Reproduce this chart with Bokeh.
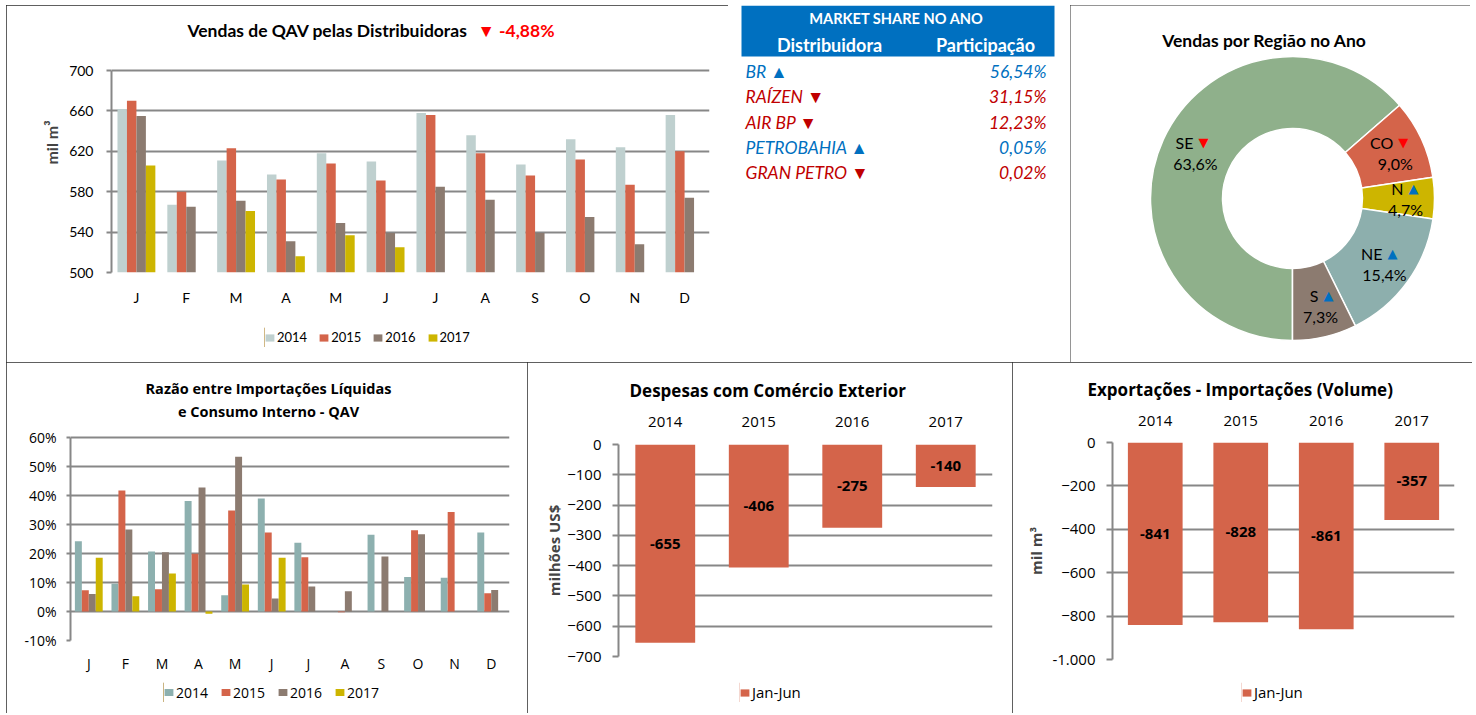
import numpy as np
from bokeh.plotting import figure
from bokeh.models import (Range1d, FactorRange, FixedTicker, Legend, LegendItem,
                          ColumnDataSource, PrintfTickFormatter)
from bokeh.core.properties import value
from bokeh.transform import dodge
from bokeh.embed import file_html
from bokeh.resources import INLINE

NaN = float("nan")

# ---------------- data ----------------
months = ["J", "F", "M", "A", "M", "J", "J", "A", "S", "O", "N", "D"]
years = ["2014", "2015", "2016", "2017"]

sales_2014 = [662, 567, 611, 597, 618, 610, 658, 636, 607, 632, 624, 656]
sales_2015 = [670, 580, 623, 592, 608, 591, 656, 618, 596, 612, 587, 620]
sales_2016 = [655, 565, 571, 531, 549, 539, 585, 572, 539, 555, 528, 574]
sales_2017 = [606, NaN, 561, 516, 537, 525, NaN, NaN, NaN, NaN, NaN, NaN]
sales_change = -4.88

ratio_2014 = [24.2, 9.6, 20.7, 38.1, 5.6, 39.0, 23.7, 0.0, 26.5, 11.9, 11.6, 27.2]
ratio_2015 = [7.3, 41.7, 7.7, 19.9, 34.8, 27.2, 18.7, -0.3, 0.0, 28.0, 34.3, 6.3]
ratio_2016 = [6.0, 28.3, 20.4, 42.8, 53.4, 4.5, 8.6, 7.0, 19.0, 26.6, 0.0, 7.4]
ratio_2017 = [18.5, 5.3, 13.1, -0.8, 9.3, 18.5, NaN, NaN, NaN, NaN, NaN, NaN]

trade_years = ["2014", "2015", "2016", "2017"]
expense_values = [-655, -406, -275, -140]
balance_values = [-841, -828, -861, -357]
period_label = "Jan-Jun"

distributors = ["BR", "RAÍZEN", "AIR BP", "PETROBAHIA", "GRAN PETRO"]
dist_share = [56.54, 31.15, 12.23, 0.05, 0.02]
dist_trend = ["up", "down", "down", "up", "down"]

regions = ["SE", "CO", "N", "NE", "S"]
region_share = [63.6, 9.0, 4.7, 15.4, 7.3]
region_trend = ["down", "down", "up", "up", "up"]

# ---------------- style ----------------
TOP_FONT = "Lato"
BOT_FONT = "Open Sans"
GRID = "#878787"
UP = "#0070C0"
DOWN = "#C00000"
C2015, C2016, C2017 = "#D4644A", "#8C7B70", "#CDB500"
roots = []


def fmt_pt(v, d):
    return f"{v:.{d}f}".replace(".", ",")


def place(ox, oy, border=True):
    st = {"position": "absolute", "left": f"{ox}px", "top": f"{oy}px"}
    if border:
        st.update({"outline": "1px solid #2b2b2b", "outline-offset": "-1px"})
    return st


def panel(width, height, origin, frame, **kw):
    ox, oy = origin
    L, R, T, B = frame
    p = figure(width=width, height=height, toolbar_location=None, output_backend="svg",
               min_border_left=L - ox, min_border_right=ox + width - R,
               min_border_top=T - oy, min_border_bottom=oy + height - B,
               background_fill_color="white", border_fill_color="white",
               styles=place(ox, oy), **kw)
    p.outline_line_color = None
    return p


def style_y(p, font, size, tick_out, standoff):
    p.yaxis.axis_line_color = GRID
    p.yaxis.axis_line_width = 2
    p.yaxis.major_tick_line_color = GRID if tick_out else None
    p.yaxis.major_tick_line_width = 2
    p.yaxis.major_tick_out = tick_out
    p.yaxis.major_tick_in = 0
    p.yaxis.minor_tick_line_color = None
    p.yaxis.minor_tick_out = 0
    p.yaxis.major_label_standoff = standoff
    p.yaxis.major_label_text_font = font
    p.yaxis.major_label_text_font_size = size
    p.yaxis.major_label_text_color = "black"
    p.ygrid.grid_line_color = GRID
    p.ygrid.grid_line_width = 2
    p.xgrid.visible = False


def style_x(p, font, size, standoff):
    p.xaxis.axis_line_color = None
    p.xaxis.major_tick_line_color = None
    p.xaxis.minor_tick_line_color = None
    p.xaxis.major_tick_out = 0
    p.xaxis.minor_tick_out = 0
    p.xaxis.major_label_standoff = standoff
    p.xaxis.major_label_text_font = font
    p.xaxis.major_label_text_font_size = size
    p.xaxis.major_label_text_color = "black"


def legend_box(labels, colors, left, cy, width, font, size, spacing):
    """A transparent strip holding a horizontal legend, laid over the chart panel."""
    lf = figure(width=width, height=20, x_range=Range1d(0, 1), y_range=Range1d(0, 1),
                min_border=0, toolbar_location=None, output_backend="svg",
                x_axis_type=None, y_axis_type=None, border_fill_color=None,
                background_fill_color=None, styles=place(left, cy - 10, border=False))
    lf.outline_line_color = None
    lf.grid.visible = False
    items = []
    for lab, col in zip(labels, colors):
        # swatch renderer kept outside the strip's visible range
        r = lf.vbar(x=[-5], top=[1], width=0.1, fill_color=col, line_color=None)
        items.append(LegendItem(label=lab, renderers=[r]))
    lg = Legend(items=items, orientation="horizontal", location="center_left",
                glyph_width=11, glyph_height=9, label_height=9,
                label_text_font=font, label_text_font_size=size,
                label_text_line_height=0.7,
                label_text_color="black", label_standoff=2,
                spacing=spacing, padding=0, margin=0,
                border_line_color=None, background_fill_alpha=0)
    lf.add_layout(lg)
    return lf


class Mapper:
    """page pixel -> data coordinates for a frame whose value band [v_lo, v_hi] spans px_lo..px_hi."""
    def __init__(self, frame, x0, x1, v_lo, v_hi, px_lo, px_hi):
        self.L, self.R, self.T, self.B = frame
        self.x0, self.x1 = x0, x1
        self.scale = (v_hi - v_lo) / (px_lo - px_hi)
        self.v_lo, self.px_lo = v_lo, px_lo

    def x(self, px):
        return self.x0 + (px - self.L) * (self.x1 - self.x0) / (self.R - self.L)

    def y(self, py):
        return self.v_lo + (self.px_lo - py) * self.scale


# ---------------- chart 1: monthly sales ----------------
o1, f1 = (6, 5), (111, 709, 12, 272)          # frame top extended to hold the title
m1 = Mapper(f1, 0.5, 12.5, 500, 700, 272, 70)
p1 = panel(722, 357, o1, f1, x_range=Range1d(0.5, 12.5), y_range=Range1d(500, m1.y(f1[2])))
src1 = ColumnDataSource(dict(x=list(range(1, 13)), y2014=sales_2014, y2015=sales_2015,
                             y2016=sales_2016, y2017=sales_2017))
offsets = [-0.285, -0.095, 0.095, 0.285]
cols1 = ["#BFD0CF", C2015, C2016, C2017]
for k, yr in enumerate(years):
    p1.vbar(x=dodge("x", offsets[k]), top="y" + yr, bottom=500, width=0.19,
            source=src1, fill_color=cols1[k], line_color=None)
p1.xaxis.ticker = FixedTicker(ticks=list(range(1, 13)))
p1.xaxis.major_label_overrides = {i + 1: m for i, m in enumerate(months)}
p1.yaxis.ticker = FixedTicker(ticks=list(range(500, 701, 40)))
p1.yaxis.bounds = (500, 700)
style_y(p1, TOP_FONT, "14px", 5, 13)
style_x(p1, TOP_FONT, "14px", 16)
p1.yaxis.axis_label = "mil m³"
p1.yaxis.axis_label_text_font = TOP_FONT
p1.yaxis.axis_label_text_font_size = "16px"
p1.yaxis.axis_label_text_font_style = "bold"
p1.yaxis.axis_label_standoff = 5
p1.text(x=[m1.x(467)], y=[m1.y(30)], text=["Vendas de QAV pelas Distribuidoras"],
        text_align="right", text_baseline="middle", text_font=value(TOP_FONT),
        text_font_style="bold", text_font_size="17.5px", text_color="black")
p1.text(x=[m1.x(477)], y=[m1.y(30)], text=["▼ " + fmt_pt(sales_change, 2) + "%"],
        text_align="left", text_baseline="middle", text_font=value(TOP_FONT),
        text_font_style="bold", text_font_size="17.5px", text_color="#FF0000")
roots.append(p1)

# ---------------- table: market share ----------------
pt = figure(width=342, height=357, x_range=Range1d(728, 1070), y_range=Range1d(-362, -5),
            min_border=0, toolbar_location=None, output_backend="svg",
            x_axis_type=None, y_axis_type=None, border_fill_color="white",
            styles=place(728, 5, border=False))
pt.outline_line_color = None
pt.grid.visible = False
pt.quad(left=741, right=1054, top=-5, bottom=-56, fill_color="#0070C0", line_color=None)
pt.text(x=[896], y=[-18], text=["MARKET SHARE NO ANO"], text_align="center",
        text_baseline="middle", text_font=value(TOP_FONT), text_font_style="bold",
        text_font_size="14.6px", text_color="white")
pt.text(x=[829, 985], y=[-44, -44], text=["Distribuidora", "Participação"], text_align="center",
        text_baseline="middle", text_font=value(TOP_FONT), text_font_style="bold",
        text_font_size="18px", text_color="white")
row_y = [-(71 + 25.3 * i) for i in range(len(distributors))]
tcol = [UP if t == "up" else DOWN for t in dist_trend]
names = [n + " " + ("▲" if t == "up" else "▼") for n, t in zip(distributors, dist_trend)]
shares = [fmt_pt(s, 2) + "%" for s in dist_share]
pt.text(x=745, y=row_y, text=names, text_color=tcol, text_align="left", text_baseline="middle",
        text_font=value(TOP_FONT), text_font_style="italic", text_font_size="17.5px")
pt.text(x=1046, y=row_y, text=shares, text_color=tcol, text_align="right", text_baseline="middle",
        text_font=value(TOP_FONT), text_font_style="italic", text_font_size="17.5px")
roots.append(pt)

# ---------------- donut: sales by region ----------------
pp = figure(width=400, height=357, x_range=Range1d(1070, 1470), y_range=Range1d(-362, -5),
            min_border=0, toolbar_location=None, output_backend="svg",
            x_axis_type=None, y_axis_type=None, border_fill_color="white",
            styles=place(1070, 5))
pp.outline_line_color = None
pp.grid.visible = False
cx, cy, r_in, r_out = 1292, -198, 70, 142
frac = np.array(region_share) / np.sum(region_share)
cum = np.concatenate([[0.0], np.cumsum(frac)])
first = np.pi                      # first slice starts at 6 o'clock, clockwise
start = np.pi / 2 - (first + 2 * np.pi * cum[:-1])
end = np.pi / 2 - (first + 2 * np.pi * cum[1:])
pcols = ["#8FB08B", "#D4644A", "#CDB500", "#8DAFAD", "#8C7B70"]
pp.annular_wedge(x=cx, y=cy, inner_radius=r_in, outer_radius=r_out, start_angle=start,
                 end_angle=end, direction="clock", fill_color=pcols, line_color="white",
                 line_width=1.5)
mid = (start + end) / 2
r_lab = 110
lx = cx + r_lab * np.cos(mid)
ly = cy + r_lab * np.sin(mid)
pp.text(x=lx + 1, y=ly + 10, text=regions, text_align="right", text_baseline="middle",
        text_font=value(TOP_FONT), text_font_size="16px", text_color="black")
pp.text(x=lx + 6, y=ly + 10, text=["▲" if t == "up" else "▼" for t in region_trend],
        text_align="left", text_baseline="middle", text_font=value("DejaVu Sans"),
        text_font_size="13px",
        text_color=["#0070C0" if t == "up" else "#FF0000" for t in region_trend])
pp.text(x=lx + 3, y=ly - 11, text=[fmt_pt(v, 1) + "%" for v in region_share],
        text_align="center", text_baseline="middle", text_font=value(TOP_FONT),
        text_font_size="16px", text_color="black")
pp.text(x=[1264], y=[-40], text=["Vendas por Região no Ano"], text_align="center",
        text_baseline="middle", text_font=value(TOP_FONT), text_font_style="bold",
        text_font_size="17.5px", text_color="black")
roots.append(pp)

# ---------------- chart 2: import ratio ----------------
o2, f2 = (6, 362), (70, 509, 370, 640)        # frame top extended to hold the title
m2 = Mapper(f2, 0.5, 12.5, -10, 60, 640, 437)
p2 = panel(521, 351, o2, f2, x_range=Range1d(0.5, 12.5), y_range=Range1d(-10, m2.y(f2[2])))
src2 = ColumnDataSource(dict(x=list(range(1, 13)), y2014=ratio_2014, y2015=ratio_2015,
                             y2016=ratio_2016, y2017=ratio_2017))
cols2 = ["#8DB0AF", C2015, C2016, C2017]
for k, yr in enumerate(years):
    p2.vbar(x=dodge("x", offsets[k]), top="y" + yr, bottom=0, width=0.19,
            source=src2, fill_color=cols2[k], line_color=None)
p2.xaxis.ticker = FixedTicker(ticks=list(range(1, 13)))
p2.xaxis.major_label_overrides = {i + 1: m for i, m in enumerate(months)}
p2.yaxis.ticker = FixedTicker(ticks=list(range(-10, 61, 10)))
p2.yaxis.bounds = (-10, 60)
p2.yaxis.formatter = PrintfTickFormatter(format="%d%%")
style_y(p2, BOT_FONT, "14px", 4, 10)
style_x(p2, BOT_FONT, "14px", 13)
p2.text(x=[m2.x(268), m2.x(268)], y=[m2.y(388), m2.y(411)],
        text=["Razão entre Importações Líquidas", "e Consumo Interno - QAV"],
        text_align="center", text_baseline="middle", text_font=value(BOT_FONT),
        text_font_style="bold", text_font_size="14.5px", text_color="black")
roots.append(p2)


# ---------------- charts 3 & 4: trade ----------------
def trade_chart(origin, width, frame, vals, ymin, step, title, title_left, ylabel,
                ylabel_standoff, x_standoff, overrides=None):
    p = panel(width, 351, origin, frame, x_range=FactorRange(factors=trade_years),
              y_range=Range1d(ymin, 0), x_axis_location="above")
    src = ColumnDataSource(dict(x=trade_years, v=vals, mid=[v / 2 for v in vals],
                                lab=[str(v) for v in vals]))
    p.vbar(x="x", top=0, bottom="v", width=0.64, source=src, fill_color=C2015, line_color=None)
    p.text(x="x", y="mid", text="lab", source=src, text_align="center", text_baseline="middle",
           text_font=value(BOT_FONT), text_font_style="bold", text_font_size="15px",
           text_color="black")
    p.yaxis.ticker = FixedTicker(ticks=list(range(ymin, 1, step)))
    if overrides:
        p.yaxis.major_label_overrides = overrides
    style_y(p, BOT_FONT, "15px", 6, 11)
    style_x(p, BOT_FONT, "15px", x_standoff)
    p.yaxis.axis_label = ylabel
    p.yaxis.axis_label_text_font = BOT_FONT
    p.yaxis.axis_label_text_font_size = "15px"
    p.yaxis.axis_label_text_font_style = "bold"
    p.yaxis.axis_label_standoff = ylabel_standoff
    p.title.text = title
    p.title.align = "left"
    p.title.offset = title_left - frame[0]
    p.title.text_font = BOT_FONT
    p.title.text_font_size = "17px"
    p.title.text_font_style = "bold"
    p.title.text_color = "black"
    p.title.standoff = 23
    return p


p3 = trade_chart((527, 362), 485, (618, 992, 444, 656), expense_values, -700, 100,
                 "Despesas com Comércio Exterior", 629, "milhões US$", 0, 18)
p4 = trade_chart((1012, 362), 460, (1112, 1454, 442, 659), balance_values, -1000, 200,
                 "Exportações - Importações (Volume)", 1087, "mil m³", 3, 17,
                 overrides={-1000: "-1.000"})
roots += [p3, p4]

# ---------------- legends (laid over the panels) ----------------
roots.append(legend_box(years, cols1, 264, 337, 240, TOP_FONT, "13px", 11))
roots.append(legend_box(years, cols2, 163, 692, 240, BOT_FONT, "14px", 12))
roots.append(legend_box([period_label], [C2015], 739, 692, 100, BOT_FONT, "15px", 10))
roots.append(legend_box([period_label], [C2015], 1241, 692, 100, BOT_FONT, "15px", 10))

open("out.html", "w").write(file_html(roots, INLINE))
